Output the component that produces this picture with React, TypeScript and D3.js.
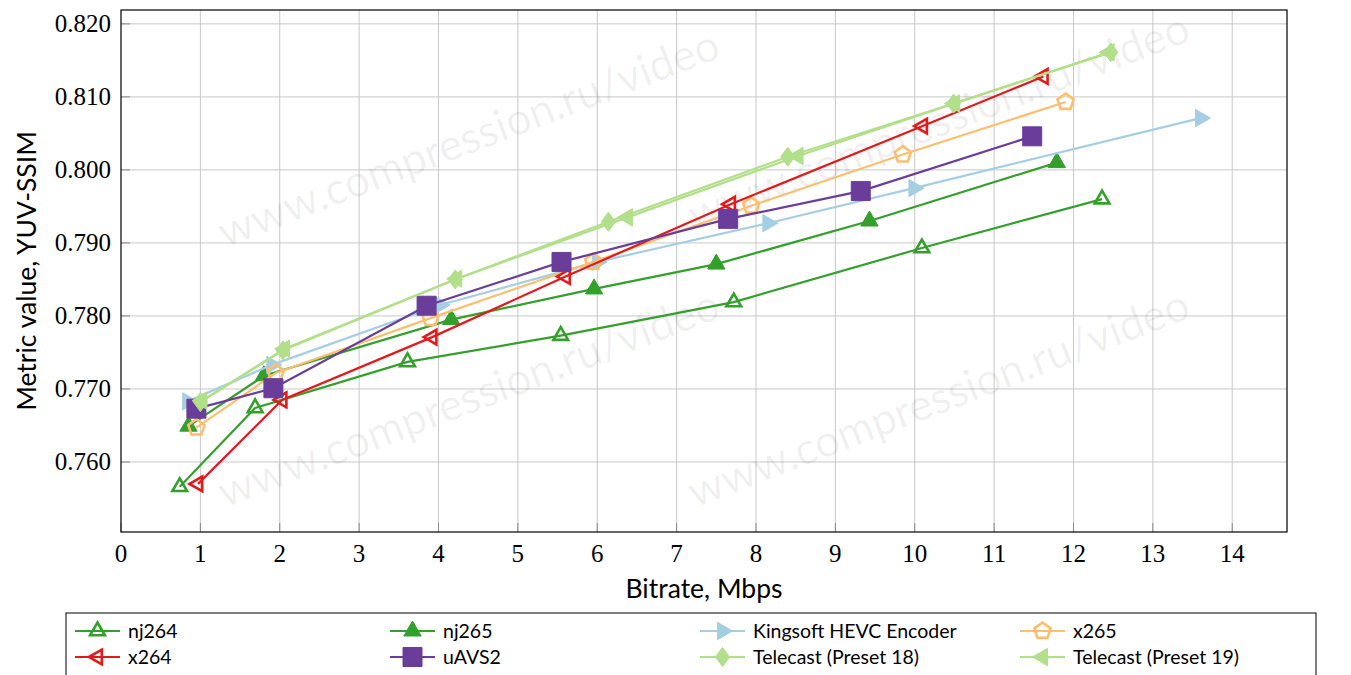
import { useMemo } from 'react';
import * as d3 from 'd3';

const xTicks = d3.range(0, 15);
const yTicks = [0.76, 0.77, 0.78, 0.79, 0.8, 0.81, 0.82];

const nj264X = [0.74, 1.69, 3.61, 5.54, 7.72, 10.09, 12.36];
const nj264Y = [0.7566, 0.7674, 0.7737, 0.7773, 0.7819, 0.7893, 0.796];
const nj265X = [0.85, 1.8, 4.16, 5.96, 7.5, 9.43, 11.79];
const nj265Y = [0.7649, 0.7718, 0.7795, 0.7837, 0.7871, 0.793, 0.801];
const kingsoftX = [0.84, 1.9, 4.02, 6.0, 8.15, 9.99, 13.6];
const kingsoftY = [0.7683, 0.7733, 0.7815, 0.7874, 0.7927, 0.7975, 0.8071];
const x265X = [0.95, 1.95, 3.9, 5.95, 7.94, 9.85, 11.9];
const x265Y = [0.7647, 0.7722, 0.7797, 0.7874, 0.7951, 0.8021, 0.8093];
const x264X = [0.97, 2.03, 3.92, 5.6, 7.68, 10.1, 11.62];
const x264Y = [0.757, 0.7685, 0.7771, 0.7854, 0.7953, 0.806, 0.8128];
const uavs2X = [0.95, 1.92, 3.85, 5.55, 7.65, 9.32, 11.48];
const uavs2Y = [0.7673, 0.7701, 0.7814, 0.7874, 0.7933, 0.7971, 0.8046];
const tc18X = [1.0, 2.04, 4.21, 6.14, 8.4, 10.49, 12.47];
const tc18Y = [0.7682, 0.7753, 0.785, 0.7929, 0.8018, 0.8091, 0.8161];
const tc19X = [1.02, 2.06, 4.23, 6.38, 8.53, 10.5, 12.45];
const tc19Y = [0.7684, 0.7755, 0.7851, 0.7935, 0.8019, 0.8091, 0.8161];

type MarkerKind = 'triUpOpen' | 'triUp' | 'triRight' | 'pentOpen' | 'triLeftOpen' | 'square' | 'diamond' | 'triLeft';

const series: { name: string; xs: number[]; ys: number[]; color: string; marker: MarkerKind }[] = [
  { name: 'nj264', xs: nj264X, ys: nj264Y, color: '#33a02c', marker: 'triUpOpen' },
  { name: 'nj265', xs: nj265X, ys: nj265Y, color: '#33a02c', marker: 'triUp' },
  { name: 'Kingsoft HEVC Encoder', xs: kingsoftX, ys: kingsoftY, color: '#a6cee3', marker: 'triRight' },
  { name: 'x265', xs: x265X, ys: x265Y, color: '#fdbf6f', marker: 'pentOpen' },
  { name: 'x264', xs: x264X, ys: x264Y, color: '#e31a1c', marker: 'triLeftOpen' },
  { name: 'uAVS2', xs: uavs2X, ys: uavs2Y, color: '#6a3d9a', marker: 'square' },
  { name: 'Telecast (Preset 18)', xs: tc18X, ys: tc18Y, color: '#b2df8a', marker: 'diamond' },
  { name: 'Telecast (Preset 19)', xs: tc19X, ys: tc19Y, color: '#b2df8a', marker: 'triLeft' },
];

// watermark centres, page pixels
const watermarks = [
  [470, 142],
  [940, 125],
  [470, 402],
  [940, 402],
];

function poly(n: number, r: number, start: number) {
  const pts = d3.range(n).map((i) => {
    const a = ((start + (360 / n) * i) * Math.PI) / 180;
    return [r * Math.cos(a), r * Math.sin(a)];
  });
  return 'M' + pts.map((p) => p[0].toFixed(2) + ',' + p[1].toFixed(2)).join('L') + 'Z';
}

function markerPath(kind: MarkerKind) {
  switch (kind) {
    case 'triUpOpen':
      return poly(3, 8.5, -90);
    case 'triUp':
      return poly(3, 10, -90);
    case 'triRight':
      return poly(3, 10, 0);
    case 'triLeft':
      return poly(3, 10, 180);
    case 'triLeftOpen':
      return poly(3, 8.5, 180);
    case 'pentOpen':
      return poly(5, 8.5, -90);
    case 'square':
      return 'M-9.5,-9.5L9.5,-9.5L9.5,9.5L-9.5,9.5Z';
    case 'diamond':
      return 'M0,-9.5L7,0L0,9.5L-7,0Z';
  }
}

const Marker = ({ kind, color, x, y }: { kind: MarkerKind; color: string; x: number; y: number }) => {
  const open = kind.endsWith('Open');
  return (
    <path
      transform={`translate(${x},${y})`}
      d={markerPath(kind)}
      fill={open ? 'none' : color}
      stroke={color}
      strokeWidth={open ? 2.6 : 1}
      strokeLinejoin="miter"
    />
  );
};

export default function App() {
  const width = 1351;
  const height = 675;
  const margin = { top: 10, right: 64, bottom: 143, left: 121 };
  const innerW = width - margin.left - margin.right;
  const innerH = height - margin.top - margin.bottom;

  const x = useMemo(() => d3.scaleLinear().domain([0, 14.69]).range([0, innerW]), [innerW]);
  const y = useMemo(() => d3.scaleLinear().domain([0.75041, 0.8219]).range([innerH, 0]), [innerH]);

  const line = d3
    .line<[number, number]>()
    .x((d) => x(d[0]))
    .y((d) => y(d[1]));

  const serif = '"Liberation Serif", "DejaVu Serif", serif';
  const sans = 'Lato, "Open Sans", sans-serif';

  const legendCols = [75, 390, 700, 1020];
  const legendRows = [631, 657];

  return (
    <svg
      width={width}
      height={height}
      style={{ position: 'absolute', left: 0, top: 0, background: '#fff' }}
    >
      <rect width={width} height={height} fill="#fff" />
      <g transform={`translate(${margin.left},${margin.top})`}>
        {xTicks.slice(1).map((t) => (
          <line key={'gx' + t} x1={x(t)} x2={x(t)} y1={0} y2={innerH} stroke="#c8c8c8" strokeWidth={1} />
        ))}
        {yTicks.map((t) => (
          <line key={'gy' + t} x1={0} x2={innerW} y1={y(t)} y2={y(t)} stroke="#c8c8c8" strokeWidth={1} />
        ))}
        {xTicks.map((t) => (
          <g key={'tx' + t}>
            <line x1={x(t)} x2={x(t)} y1={innerH} y2={innerH - 9} stroke="#888" strokeWidth={1} />
            <text x={x(t)} y={innerH + 30} textAnchor="middle" fontFamily={serif} fontSize={25} fill="#000">
              {t}
            </text>
          </g>
        ))}
        {yTicks.map((t) => (
          <g key={'ty' + t}>
            <line x1={0} x2={9} y1={y(t)} y2={y(t)} stroke="#888" strokeWidth={1} />
            <text x={-10} y={y(t) + 8} textAnchor="end" fontFamily={serif} fontSize={25} fill="#000">
              {d3.format('.3f')(t)}
            </text>
          </g>
        ))}
        {watermarks.map(([cx, cy], i) => (
          <text
            key={'wm' + i}
            transform={`translate(${cx - margin.left},${cy - margin.top}) rotate(-21)`}
            textAnchor="middle"
            dominantBaseline="middle"
            fontFamily={sans}
            fontSize={44}
            fill="#000"
            fillOpacity={0.06}
          >
            www.compression.ru/video
          </text>
        ))}
        {series.map((s) => {
          const pts = s.xs.map((v, i) => [v, s.ys[i]] as [number, number]);
          return (
            <g key={s.name}>
              <path d={line(pts)!} fill="none" stroke={s.color} strokeWidth={2.2} />
              {pts.map((p, i) => (
                <Marker key={i} kind={s.marker} color={s.color} x={x(p[0])} y={y(p[1])} />
              ))}
            </g>
          );
        })}
        <rect x={0} y={0} width={innerW} height={innerH} fill="none" stroke="#000" strokeWidth={1.2} />
      </g>
      <text x={704} y={598} textAnchor="middle" fontFamily={sans} fontSize={26.5} fill="#000">
        Bitrate, Mbps
      </text>
      <text
        transform="translate(36,271) rotate(-90)"
        textAnchor="middle"
        fontFamily={sans}
        fontSize={26.5}
        fill="#000"
      >
        Metric value, YUV-SSIM
      </text>
      <rect x={66} y={613} width={1250} height={80} fill="#fff" stroke="#000" strokeWidth={1} />
      {series.map((s, i) => {
        const cx = legendCols[i % 4];
        const cy = legendRows[Math.floor(i / 4)];
        return (
          <g key={'lg' + s.name}>
            <line x1={cx} x2={cx + 45} y1={cy} y2={cy} stroke={s.color} strokeWidth={2.2} />
            <Marker kind={s.marker} color={s.color} x={cx + 22.5} y={cy} />
            <text x={cx + 53} y={cy + 6.5} fontFamily={sans} fontSize={19.5} fill="#000">
              {s.name}
            </text>
          </g>
        );
      })}
    </svg>
  );
}
